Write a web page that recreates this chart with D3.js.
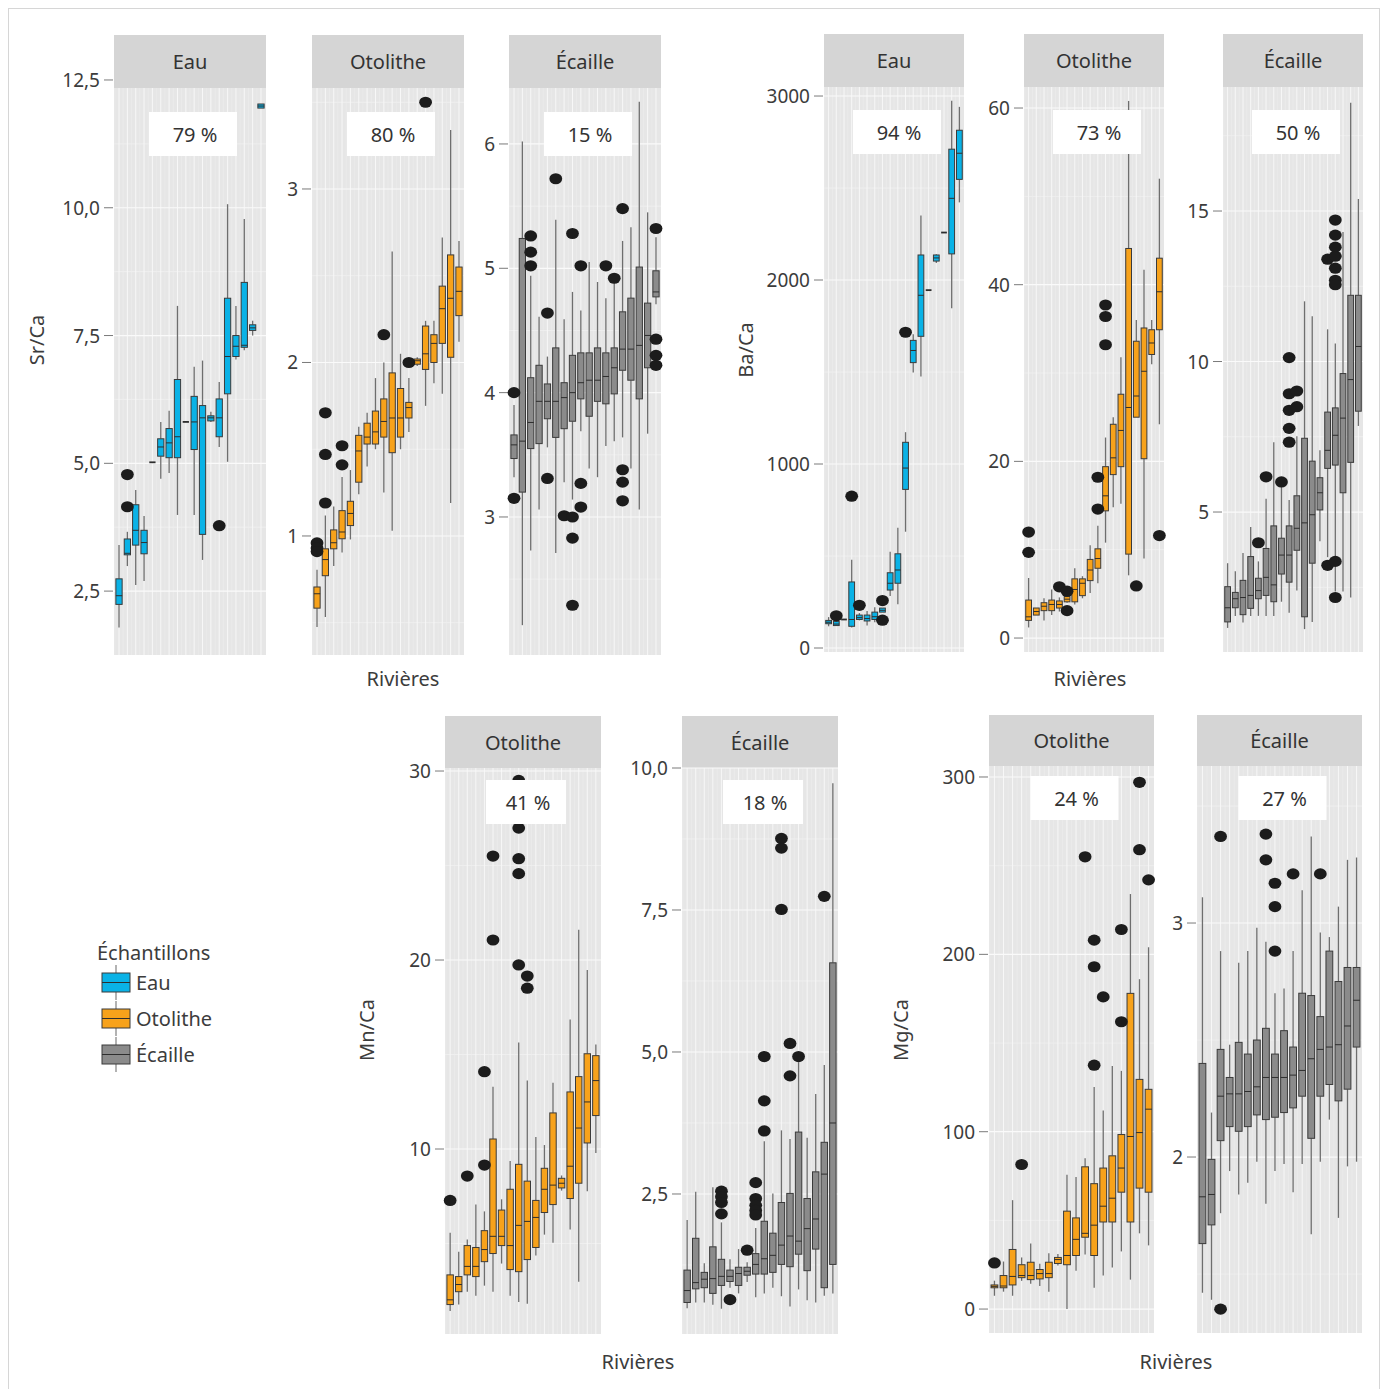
<!DOCTYPE html>
<html><head><meta charset="utf-8">
<script src="https://cdn.jsdelivr.net/npm/d3@7"></script>
<style>body{margin:0;background:#fff}svg{display:block;font-family:"Noto Sans",sans-serif}</style>
</head><body><svg id="c" width="1382" height="1389"></svg>
<script>
// ---------- DATA ----------
const rivers = ["R1","R2","R3","R4","R5","R6","R7","R8","R9","R10","R11","R12","R13","R14","R15","R16","R17","R18"];
const sampleTypes = ["Eau","Otolithe","Écaille"];
// each river: [whisker low, Q1, median, Q3, whisker high]
const srEau = [[1.79,2.24,2.41,2.74,3.40],[2.99,3.21,3.24,3.52,3.66],[2.62,3.40,3.69,4.19,4.48],[2.70,3.23,3.45,3.69,3.97],[5.02,5.02,5.02,5.02,5.02],[4.70,5.14,5.32,5.48,5.81],[4.81,5.11,5.40,5.68,6.03],[3.99,5.11,5.52,6.64,8.08],[5.81,5.81,5.81,5.81,5.81],[3.99,5.27,5.81,6.31,6.89],[3.11,3.61,5.89,6.13,7.01],[5.81,5.83,5.89,5.93,6.01],[5.32,5.52,5.89,6.26,6.59],[5.03,6.36,7.09,8.23,10.07],[7.03,7.09,7.29,7.50,8.08],[7.21,7.27,7.31,8.54,9.78],[7.50,7.60,7.65,7.71,7.79],[11.95,11.95,11.99,12.03,12.03]];
const srEauOut = [[2,4.78],[2,4.15],[13,3.78]];
const srOto = [[0.475,0.584,0.667,0.706,0.806],[0.533,0.771,0.864,0.926,1.118],[0.827,0.926,0.961,1.035,1.17],[0.905,0.984,1.023,1.146,1.34],[0.98,1.06,1.13,1.20,1.38],[1.24,1.31,1.49,1.58,1.63],[1.40,1.53,1.57,1.65,1.71],[1.50,1.53,1.60,1.72,1.91],[1.25,1.57,1.66,1.79,2.00],[1.03,1.48,1.68,1.94,2.64],[1.50,1.57,1.68,1.85,2.05],[1.60,1.68,1.74,1.77,1.91],[1.98,1.99,2.01,2.02,2.03],[1.75,1.96,2.05,2.21,2.24],[1.88,2.00,2.11,2.16,2.24],[1.82,2.11,2.31,2.44,2.72],[1.19,2.03,2.37,2.62,3.34],[2.12,2.27,2.41,2.55,2.70]];
const srOtoOut = [[1,0.96],[1,0.93],[1,0.91],[2,1.71],[2,1.47],[2,1.19],[4,1.52],[4,1.41],[9,2.16],[12,2.00],[14,3.50]];
const srEca = [[3.32,3.47,3.58,3.66,3.90],[2.13,3.20,3.61,5.24,6.02],[2.73,3.55,3.76,4.12,4.94],[3.06,3.59,3.93,4.22,4.61],[3.56,3.79,3.93,4.07,4.29],[2.71,3.64,3.93,4.36,5.39],[3.28,3.71,3.96,4.08,4.59],[3.14,3.77,4.00,4.30,4.81],[3.69,3.95,4.08,4.32,4.66],[3.39,3.81,4.10,4.32,5.05],[3.32,3.93,4.10,4.36,4.89],[3.57,3.91,4.13,4.32,4.76],[3.61,3.99,4.20,4.36,4.94],[3.64,4.18,4.35,4.65,5.22],[3.39,4.10,4.35,4.76,5.33],[3.06,3.95,4.38,5.01,6.34],[3.67,4.20,4.46,4.72,5.45],[4.71,4.77,4.81,4.98,5.25]];
const srEcaOut = [[1,4.00],[1,3.15],[3,5.26],[3,5.13],[3,5.02],[5,4.64],[5,3.31],[6,5.72],[7,3.01],[8,5.28],[8,3.00],[8,2.83],[8,2.29],[9,5.02],[9,3.27],[9,3.08],[12,5.02],[13,4.92],[14,5.48],[14,3.38],[14,3.28],[14,3.13],[18,5.32],[18,4.43],[18,4.30],[18,4.22]];
const baEau = [[118,132,140,150,168],[122,122,130,145,150],[155,155,155,155,155],[112,118,155,359,479],[150,155,165,179,190],[122,147,160,179,201],[140,155,170,195,221],[195,195,205,217,217],[282,315,352,409,523],[238,352,424,512,654],[632,862,978,1118,1173],[1497,1551,1617,1672,1705],[1475,1694,1917,2136,2350],[1945,1945,1945,1945,1945],[2092,2103,2120,2136,2140],[2258,2258,2258,2258,2258],[1847,2142,2444,2711,2974],[2422,2547,2689,2814,2941]];
const baEauOut = [[2,175],[4,825],[5,232],[8,258],[8,151],[11,1716]];
const baOto = [[1.2,2.0,2.4,4.3,6.8],[2.6,2.6,3.0,3.4,3.4],[2.0,3.1,3.6,4.0,4.5],[2.6,3.1,3.8,4.3,5.5],[3.0,3.4,3.8,4.2,4.6],[4.0,4.1,4.4,4.7,4.9],[3.8,4.1,5.5,6.7,7.9],[4.5,4.8,6.2,6.7,7.0],[5.1,6.5,7.7,8.9,10.5],[6.2,7.9,9.0,10.1,12.7],[10.8,14.4,16.1,19.4,22.7],[14.8,18.5,20.4,24.2,25.0],[15.2,19.4,23.5,27.6,31.8],[7.1,9.5,26.1,44.1,60.8],[25.0,25.0,27.4,33.6,36.0],[9.0,20.3,30.2,35.1,41.7],[31.0,32.1,33.4,34.9,36.0],[24.2,34.9,39.2,43.0,52.0]];
const baOtoOut = [[1,12.0],[1,9.7],[5,5.8],[6,5.3],[6,3.1],[10,18.2],[10,14.6],[11,37.7],[11,36.4],[11,33.2],[15,5.9],[18,11.6]];
const baEca = [[1.15,1.35,1.82,2.52,3.30],[1.55,1.82,2.12,2.33,3.03],[1.33,1.59,2.16,2.73,3.64],[1.55,1.80,2.23,3.52,4.50],[1.55,2.12,2.39,2.80,3.36],[1.55,2.23,2.83,3.79,5.44],[1.55,2.02,2.58,4.54,7.32],[2.02,2.94,3.57,4.13,5.91],[1.65,2.67,3.57,4.54,5.40],[2.39,3.73,4.46,5.54,7.52],[1.11,1.52,4.64,7.45,12.0],[1.35,3.30,4.91,6.69,11.5],[4.03,5.07,5.64,6.14,7.05],[3.50,6.45,7.05,8.32,11.07],[2.36,6.56,7.55,8.46,10.6],[2.36,5.64,8.12,9.60,14.3],[2.16,6.65,9.40,12.2,18.6],[7.86,8.35,10.5,12.2,15.4]];
const baEcaOut = [[5,3.98],[6,6.17],[8,6.0],[9,10.13],[9,8.93],[9,8.38],[9,7.78],[9,7.32],[10,9.02],[10,8.50],[14,13.4],[14,3.23],[15,14.7],[15,14.2],[15,13.8],[15,13.5],[15,13.1],[15,12.7],[15,12.55],[15,3.36],[15,2.16]];
const mnOto = [[1.43,1.77,2.02,3.34,5.57],[1.77,2.45,2.83,3.25,4.57],[2.45,3.34,3.79,4.89,5.21],[2.23,3.25,3.79,4.79,7.06],[2.77,4.04,4.68,5.68,6.70],[2.45,4.47,5.38,10.53,13.30],[3.94,4.89,5.38,6.77,7.34],[2.23,3.62,4.89,7.87,9.36],[1.91,3.51,5.96,9.19,15.64],[1.81,4.15,6.17,8.30,13.62],[4.36,4.79,6.38,7.28,10.64],[5.47,6.64,7.87,8.98,10.21],[5.04,7.06,8.09,11.91,13.51],[7.80,7.94,8.19,8.45,8.60],[5.74,7.38,9.09,13.02,16.85],[2.98,8.19,11.11,13.83,21.6],[7.77,10.32,12.49,15.04,19.47],[9.79,11.77,13.62,14.94,15.53]];
const mnOtoOut = [[1,7.28],[3,8.57],[5,14.09],[5,9.15],[6,25.5],[6,21.06],[9,29.5],[9,26.98],[9,25.36],[9,24.57],[9,19.74],[10,19.15],[10,18.51]];
const mnEca = [[0.49,0.59,0.80,1.16,2.04],[0.59,0.83,0.94,1.72,2.54],[0.59,0.85,1.00,1.12,1.28],[0.55,0.75,1.01,1.57,2.62],[0.48,0.89,1.05,1.35,2.00],[0.85,0.96,1.05,1.16,1.35],[0.75,0.89,1.10,1.21,1.53],[0.95,1.07,1.14,1.21,1.30],[0.68,1.09,1.26,1.45,1.90],[0.75,1.09,1.36,2.02,3.43],[0.85,1.12,1.42,1.81,2.51],[0.70,1.26,1.60,2.35,3.62],[0.52,1.22,1.76,2.51,3.47],[0.82,1.44,1.67,3.59,4.82],[0.63,1.15,1.89,2.42,3.49],[0.59,1.53,2.06,2.89,4.26],[0.71,0.85,2.85,3.41,4.77],[0.75,1.26,3.75,6.57,9.73]];
const mnEcaOut = [[5,2.55],[5,2.45],[5,2.35],[5,2.15],[6,0.64],[8,1.51],[9,2.70],[9,2.42],[9,2.30],[9,2.21],[9,2.13],[10,4.92],[10,4.14],[10,3.61],[12,8.76],[12,8.59],[12,7.51],[13,5.15],[13,4.58],[14,4.92],[17,7.74]];
const mgOto = [[7.5,12.0,12.8,13.6,16],[9.8,12.0,13.0,18.9,26.8],[7.5,13.6,18.4,33.6,61.4],[15.9,17.7,18.9,25.0,29.1],[14.3,16.6,18.9,26.4,37.0],[13.0,17.0,20.0,22.3,25.5],[9.8,17.7,20.0,26.4,31.4],[24.5,25.7,27.9,29.1,31.0],[0,25.0,30.2,55.2,75.7],[21.6,30.2,39.3,51.4,74.5],[30.7,40.5,42.7,80.2,85],[12.0,30.2,47.3,70.7,125.2],[18.9,49.1,58.0,79.5,112],[23.4,49.1,62.5,86.4,137],[32.5,65.9,79.5,98.4,134.3],[16.6,49.1,97.3,178,234],[42.7,68.2,99.5,129.5,186],[35.9,65.9,112.7,123.9,204]];
const mgOtoOut = [[1,26],[4,81.5],[11,255],[12,208],[12,193],[12,137.5],[13,176],[15,214],[15,162],[17,297],[17,259],[18,242]];
const mgEca = [[1.42,1.63,1.83,2.40,3.11],[1.39,1.71,1.84,1.99,2.19],[1.76,2.07,2.26,2.46,2.88],[1.94,2.13,2.27,2.34,2.48],[1.84,2.11,2.27,2.49,2.83],[1.89,2.13,2.28,2.44,2.88],[1.98,2.18,2.30,2.50,2.98],[1.80,2.16,2.34,2.55,2.92],[1.94,2.17,2.34,2.44,2.70],[1.97,2.19,2.34,2.54,2.72],[1.85,2.21,2.35,2.47,2.88],[1.97,2.26,2.37,2.70,3.14],[1.67,2.08,2.42,2.69,3.37],[1.98,2.26,2.46,2.60,2.96],[2.16,2.31,2.47,2.88,2.94],[1.74,2.24,2.48,2.75,3.07],[1.96,2.29,2.56,2.81,3.27],[1.98,2.47,2.67,2.81,3.28]];
const mgEcaOut = [[3,3.37],[3,1.35],[8,3.38],[8,3.27],[9,3.17],[9,3.07],[9,2.88],[11,3.21],[14,3.21]];
const pctSr = ["79 %","80 %","15 %"];
const pctBa = ["94 %","73 %","50 %"];
const pctMn = ["41 %","18 %"];
const pctMg = ["24 %","27 %"];
const ticksSr = [[2.5,5,7.5,10,12.5],[1,2,3],[3,4,5,6]];
const ticksBa = [[0,1000,2000,3000],[0,20,40,60],[5,10,15]];
const ticksMn = [[10,20,30],[2.5,5,7.5,10]];
const ticksMg = [[0,100,200,300],[2,3]];

// ---------- LAYOUT ----------
const fills = {"Eau":"#0ab2e6","Otolithe":"#f7a21b","Écaille":"#8b8b8b"};
const svg = d3.select("#c");
svg.append("rect").attr("x",8.5).attr("y",8.5).attr("width",1371).attr("height",1392).attr("fill","none").attr("stroke","#d6d6d6");

const groups = [
 {ylab:"Sr/Ca", ylx:36, yly:340, xlx:403, xly:686, stripTop:35, top:88, bottom:655, pctOff:24, pctW:88,
  panels:[
   {t:"Eau",x0:114,x1:266,dom:[1.25,12.343],ticks:ticksSr[0],dec:1,st:srEau,out:srEauOut,pct:pctSr[0]},
   {t:"Otolithe",x0:312,x1:464,dom:[0.314,3.582],ticks:ticksSr[1],dec:0,st:srOto,out:srOtoOut,pct:pctSr[1]},
   {t:"Écaille",x0:509,x1:661,dom:[1.89,6.45],ticks:ticksSr[2],dec:0,st:srEca,out:srEcaOut,pct:pctSr[2]}]},
 {ylab:"Ba/Ca", ylx:745, yly:350, xlx:1090, xly:686, stripTop:34, top:87, bottom:652, pctOff:23, pctW:88,
  panels:[
   {t:"Eau",x0:824,x1:964,dom:[-21.7,3049],ticks:ticksBa[0],dec:0,st:baEau,out:baEauOut,pct:pctBa[0]},
   {t:"Otolithe",x0:1024,x1:1164,dom:[-1.58,62.38],ticks:ticksBa[1],dec:0,st:baOto,out:baOtoOut,pct:pctBa[1]},
   {t:"Écaille",x0:1223,x1:1363,dom:[0.35,19.12],ticks:ticksBa[2],dec:0,st:baEca,out:baEcaOut,pct:pctBa[2]}]},
 {ylab:"Mn/Ca", ylx:366, yly:1030, xlx:638, xly:1369, stripTop:716, top:768, bottom:1334, pctOff:12, pctW:80,
  panels:[
   {t:"Otolithe",x0:445,x1:601,dom:[0.212,30.16],ticks:ticksMn[0],dec:0,st:mnOto,out:mnOtoOut,pct:pctMn[0]},
   {t:"Écaille",x0:682,x1:838,dom:[0.035,10.0],ticks:ticksMn[1],dec:1,st:mnEca,out:mnEcaOut,pct:pctMn[1]}]},
 {ylab:"Mg/Ca", ylx:900, yly:1030, xlx:1176, xly:1369, stripTop:715, top:766, bottom:1333, pctOff:10, pctW:88,
  panels:[
   {t:"Otolithe",x0:989,x1:1154,dom:[-13.5,306.2],ticks:ticksMg[0],dec:0,st:mgOto,out:mgOtoOut,pct:pctMg[0]},
   {t:"Écaille",x0:1197,x1:1362,dom:[1.248,3.671],ticks:ticksMg[1],dec:0,st:mgEca,out:mgEcaOut,pct:pctMg[1]}]}
];

const txtCol = "#3c3c3c";
const fmt = (dec) => dec ? (v => d3.format(".1f")(v).replace(".", ",")) : d3.format("d");

groups.forEach(g => {
  svg.append("text").attr("transform",`translate(${g.ylx},${g.yly}) rotate(-90)`)
    .attr("text-anchor","middle").attr("dominant-baseline","central")
    .attr("font-size",20).attr("fill",txtCol).text(g.ylab);
  svg.append("text").attr("x",g.xlx).attr("y",g.xly).attr("text-anchor","middle")
    .attr("font-size",20).attr("fill",txtCol).text("Rivières");

  g.panels.forEach(p => {
    const gp = svg.append("g");
    const x = d3.scalePoint().domain(rivers).range([p.x0,p.x1]).padding(0.6);
    const y = d3.scaleLinear().domain(p.dom).range([g.bottom,g.top]);
    const step = x.step(), bw = step*0.75;
    gp.append("rect").attr("x",p.x0).attr("y",g.stripTop).attr("width",p.x1-p.x0).attr("height",g.top-g.stripTop).attr("fill","#d5d5d5");
    gp.append("text").attr("x",(p.x0+p.x1)/2).attr("y",(g.stripTop+g.top)/2).attr("text-anchor","middle")
      .attr("dominant-baseline","central").attr("font-size",20).attr("fill","#333").text(p.t);
    gp.append("rect").attr("x",p.x0).attr("y",g.top).attr("width",p.x1-p.x0).attr("height",g.bottom-g.top).attr("fill","#e6e6e6");
    const tstep = p.ticks[1]-p.ticks[0];
    const minors = [];
    for (let k=-2;k<40;k++){ const v=p.ticks[0]+(k+0.5)*tstep; if (v>p.dom[0] && v<p.dom[1]) minors.push(v); }
    gp.selectAll(null).data(minors).join("line").attr("x1",p.x0).attr("x2",p.x1)
      .attr("y1",d=>y(d)).attr("y2",d=>y(d)).attr("stroke","#f2f2f2").attr("stroke-width",0.7);
    gp.selectAll(null).data(rivers).join("line").attr("x1",d=>x(d)-step/2).attr("x2",d=>x(d)-step/2)
      .attr("y1",g.top).attr("y2",g.bottom).attr("stroke","#efefef").attr("stroke-width",0.5);
    gp.selectAll(null).data(rivers).join("line").attr("x1",d=>x(d)).attr("x2",d=>x(d))
      .attr("y1",g.top).attr("y2",g.bottom).attr("stroke","#f7f7f7").attr("stroke-width",1);
    gp.selectAll(null).data(p.ticks.filter(t=>t>=p.dom[0]&&t<=p.dom[1])).join("line").attr("x1",p.x0).attr("x2",p.x1)
      .attr("y1",d=>y(d)).attr("y2",d=>y(d)).attr("stroke","#fafafa").attr("stroke-width",1.2);
    const f = fmt(p.dec);
    p.ticks.forEach(t=>{
      gp.append("line").attr("x1",p.x0-10).attr("x2",p.x0-1).attr("y1",y(t)).attr("y2",y(t)).attr("stroke","#7a7a7a").attr("stroke-width",1);
      gp.append("text").attr("x",p.x0-14).attr("y",y(t)).attr("text-anchor","end").attr("dominant-baseline","central")
        .attr("font-size",19).attr("fill",txtCol).text(f(t));
    });
    p.st.forEach((s,i)=>{
      const cx = x(rivers[i]);
      const [lo,q1,md,q3,hi] = s;
      gp.append("line").attr("x1",cx).attr("x2",cx).attr("y1",y(hi)).attr("y2",y(q3)).attr("stroke","#6e6e6e").attr("stroke-width",1.3);
      gp.append("line").attr("x1",cx).attr("x2",cx).attr("y1",y(q1)).attr("y2",y(lo)).attr("stroke","#6e6e6e").attr("stroke-width",1.3);
      if (q3-q1 > 0) {
        gp.append("rect").attr("x",cx-bw/2).attr("y",y(q3)).attr("width",bw).attr("height",Math.max(1,y(q1)-y(q3)))
          .attr("fill",fills[p.t]).attr("stroke","#3a3a3a").attr("stroke-width",1);
      }
      gp.append("line").attr("x1",cx-bw/2).attr("x2",cx+bw/2).attr("y1",y(md)).attr("y2",y(md)).attr("stroke","#2e2e2e").attr("stroke-width",q3-q1>0?1:1.8);
    });
    gp.selectAll(null).data(p.out).join("ellipse").attr("cx",d=>x(rivers[d[0]-1])).attr("cy",d=>y(d[1]))
      .attr("rx",6.4).attr("ry",5.6).attr("fill","#1c1c1c");
    const cxp = (p.x0+p.x1)/2 + 3;
    gp.append("rect").attr("x",cxp-g.pctW/2).attr("y",g.top+g.pctOff).attr("width",g.pctW).attr("height",44).attr("fill","#fff");
    gp.append("text").attr("x",cxp+2).attr("y",g.top+g.pctOff+22).attr("text-anchor","middle").attr("dominant-baseline","central")
      .attr("font-size",20).attr("fill","#333").text(p.pct);
  });
});

// ---------- LEGEND ----------
const lg = svg.append("g");
lg.append("text").attr("x",97).attr("y",960).attr("font-size",20).attr("fill",txtCol).text("Échantillons");
const ly = d3.scaleBand().domain(sampleTypes).range([965,1073]);
sampleTypes.forEach(s=>{
  const y0 = ly(s)+8, h=19, cx=116;
  lg.append("line").attr("x1",cx).attr("x2",cx).attr("y1",y0-8).attr("y2",y0+h+8).attr("stroke","#8a8a8a").attr("stroke-width",1.3);
  lg.append("rect").attr("x",102).attr("y",y0).attr("width",28).attr("height",h).attr("fill",fills[s]).attr("stroke","#3a3a3a");
  lg.append("line").attr("x1",102).attr("x2",130).attr("y1",y0+h/2).attr("y2",y0+h/2).attr("stroke","#2e2e2e");
  lg.append("text").attr("x",136).attr("y",y0+h/2).attr("dominant-baseline","central").attr("font-size",20).attr("fill",txtCol).text(s);
});
</script></body></html>
